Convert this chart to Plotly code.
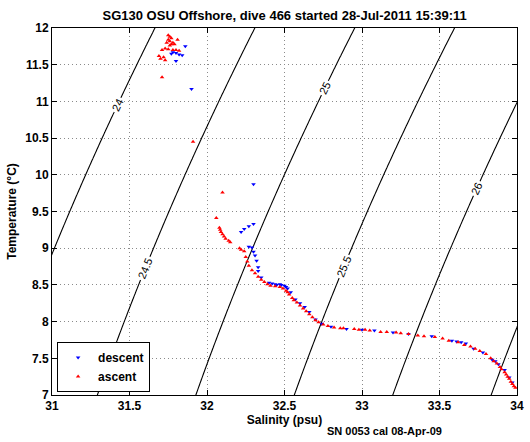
import numpy as np
import plotly.graph_objects as go

# ---- data ----
descent_S = [31.86, 31.84, 31.82, 31.80, 31.78, 31.77, 31.80, 31.90, 32.30, 32.22, 32.24, 32.27, 32.30,
             32.27, 32.29, 32.30, 32.31, 32.32, 32.33, 32.33, 32.35, 32.40, 32.42, 32.44, 32.45, 32.47,
             32.48, 32.50, 32.51, 32.52, 32.54, 32.57, 32.60, 32.63, 32.66, 32.70, 32.74, 32.80, 32.90,
             33.00, 33.08, 33.20, 33.30, 33.45, 33.58, 33.61, 33.64, 33.67, 33.72, 33.78, 33.84, 33.86,
             33.88, 33.92, 33.95, 33.97]
descent_T = [11.75, 11.63, 11.64, 11.66, 11.67, 11.65, 11.55, 11.17, 9.87, 9.22, 9.26, 9.30, 9.33,
             9.02, 9.01, 8.95, 8.90, 8.83, 8.74, 8.69, 8.60, 8.53, 8.52, 8.51, 8.50, 8.51,
             8.50, 8.49, 8.47, 8.45, 8.40, 8.30, 8.25, 8.20, 8.13, 8.03, 7.97, 7.93, 7.90,
             7.89, 7.88, 7.85, 7.83, 7.80, 7.74, 7.73, 7.72, 7.70, 7.63, 7.58, 7.48, 7.46,
             7.42, 7.34, 7.24, 7.17]

ascent_S = [31.75, 31.76, 31.77, 31.75, 31.76, 31.78, 31.77, 31.79, 31.81, 31.74, 31.76, 31.73, 31.75,
            31.78, 31.80, 31.82, 31.71, 31.69, 31.70, 31.72, 31.73, 31.71, 31.91, 32.10, 32.06, 32.08,
            32.085, 32.09, 32.10, 32.11, 32.12, 32.14, 32.15, 32.21, 32.22, 32.24, 32.25, 32.26, 32.27,
            32.29, 32.31, 32.33, 32.35, 32.37, 32.39, 32.41, 32.44, 32.47, 32.49, 32.51, 32.52, 32.53,
            32.55, 32.56, 32.58, 32.60, 32.62, 32.64, 32.66, 32.68, 32.70, 32.72, 32.75, 32.78, 32.82,
            32.86, 32.88, 32.95, 32.98, 33.02, 33.05, 33.12, 33.16, 33.22, 33.25, 33.30, 33.36, 33.40,
            33.47, 33.52, 33.56, 33.62, 33.66, 33.70, 33.73, 33.76, 33.80, 33.83, 33.85, 33.87, 33.89,
            33.90, 33.92, 33.93, 33.94, 33.95, 33.96, 33.97, 33.98, 33.99]
ascent_T = [11.90, 11.88, 11.86, 11.84, 11.82, 11.80, 11.78, 11.78, 11.84, 11.80, 11.76, 11.72, 11.71,
            11.70, 11.70, 11.69, 11.70, 11.62, 11.58, 11.60, 11.56, 11.33, 10.45, 9.76, 9.41, 9.28,
            9.25, 9.22, 9.19, 9.16, 9.13, 9.10, 9.08, 9.00, 8.98, 8.96, 8.88, 8.82, 8.76,
            8.70, 8.66, 8.61, 8.57, 8.54, 8.51, 8.49, 8.48, 8.47, 8.45, 8.42, 8.40, 8.37,
            8.32, 8.29, 8.26, 8.22, 8.18, 8.14, 8.10, 8.06, 8.02, 7.99, 7.96, 7.94, 7.92,
            7.91, 7.91, 7.90, 7.89, 7.89, 7.88, 7.86, 7.86, 7.85, 7.84, 7.83, 7.81, 7.80,
            7.79, 7.77, 7.74, 7.72, 7.68, 7.66, 7.63, 7.60, 7.56, 7.50, 7.46, 7.43, 7.38,
            7.35, 7.31, 7.28, 7.25, 7.22, 7.18, 7.15, 7.12, 7.10]

sigma_levels = [24, 26.5, 0.5]  # start, end, step
x_ticks = [31, 31.5, 32, 32.5, 33, 33.5, 34]
y_ticks = [7, 7.5, 8, 8.5, 9, 9.5, 10, 10.5, 11, 11.5, 12]


# ---- UNESCO EOS-80 density at surface pressure -> sigma_t ----
def sigma_t(S, T):
    rw = (999.842594 + 6.793952e-2 * T - 9.095290e-3 * T**2 + 1.001685e-4 * T**3
          - 1.120083e-6 * T**4 + 6.536332e-9 * T**5)
    A = 0.824493 - 4.0899e-3 * T + 7.6438e-5 * T**2 - 8.2467e-7 * T**3 + 5.3875e-9 * T**4
    B = -5.72466e-3 + 1.0227e-4 * T - 1.6546e-6 * T**2
    C = 4.8314e-4
    return rw + A * S + B * S**1.5 + C * S**2 - 1000.0


sg = np.linspace(30.9, 34.1, 161)
tg = np.linspace(6.9, 12.1, 131)
SS, TT = np.meshgrid(sg, tg)
Z = sigma_t(SS, TT)

FONT = 'Liberation Sans'

fig = go.Figure()
fig.add_trace(go.Contour(
    x=sg, y=tg, z=Z,
    contours=dict(start=sigma_levels[0], end=sigma_levels[1], size=sigma_levels[2],
                  coloring='lines', showlabels=True,
                  labelfont=dict(size=11, color='black', family=FONT)),
    colorscale=[[0, 'black'], [1, 'black']],
    line=dict(width=1.1),
    showscale=False, showlegend=False, hoverinfo='skip'))

fig.add_trace(go.Scatter(
    x=descent_S, y=descent_T, mode='markers', name='descent',
    marker=dict(symbol='triangle-down', size=4, color='#0000ff', line=dict(width=0))))
fig.add_trace(go.Scatter(
    x=ascent_S, y=ascent_T, mode='markers', name='ascent',
    marker=dict(symbol='triangle-up', size=4, color='#ff0000', line=dict(width=0))))

axis_common = dict(showline=True, linecolor='black', linewidth=1, mirror='ticks',
                   ticks='inside', ticklen=5, tickcolor='black',
                   showgrid=True, gridcolor='#8a8a8a', griddash='1px,3px', gridwidth=1,
                   zeroline=False, automargin=False,
                   tickfont=dict(family=FONT, size=12, color='black', weight='bold'))

fig.update_xaxes(range=[31, 34], tickvals=x_ticks, ticktext=[f'{v:g}' for v in x_ticks],
                 title=dict(text='Salinity (psu)', standoff=3,
                            font=dict(family=FONT, size=12, color='black', weight='bold')),
                 **axis_common)
fig.update_yaxes(range=[7, 12], tickvals=y_ticks, ticktext=[f'{v:g}' for v in y_ticks],
                 title=dict(text='Temperature (\u00b0C)', standoff=6,
                            font=dict(family=FONT, size=12, color='black', weight='bold')),
                 **axis_common)

fig.update_layout(
    width=530, height=442,
    margin=dict(l=52, r=13, t=28, b=47, autoexpand=False),
    paper_bgcolor='white', plot_bgcolor='white',
    title=dict(text='SG130 OSU Offshore, dive 466 started 28-Jul-2011 15:39:11',
               x=0.537, xanchor='center', y=0.965, yanchor='middle',
               font=dict(family=FONT, size=13, color='black', weight='bold')),
    legend=dict(x=0.011, y=0.008, xanchor='left', yanchor='bottom',
                bgcolor='white', bordercolor='black', borderwidth=1,
                font=dict(family=FONT, size=12, color='black', weight='bold'),
                itemwidth=30, tracegroupgap=0),
    annotations=[dict(text='SN 0053 cal 08-Apr-09', xref='paper', yref='paper',
                      x=0.587, y=-0.120, xanchor='left', yanchor='bottom', showarrow=False,
                      font=dict(family=FONT, size=11, color='black', weight='bold'))],
)

fig.write_html('out.html', config={'displayModeBar': False},
               post_script="document.body.style.margin='0';document.body.style.padding='0';")
